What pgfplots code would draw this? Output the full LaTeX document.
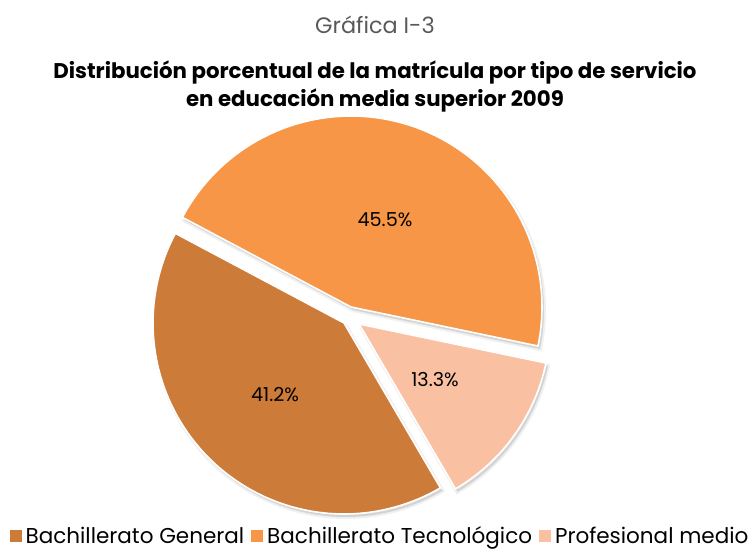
\documentclass[border=0pt]{standalone}
\usepackage{pgfplots}
\usepackage{pgfplotstable}
\pgfplotsset{compat=1.18}
\usepackage{fontspec}
\setmainfont{Poppins}
\definecolor{cGen}{HTML}{CC7B38}
\definecolor{cTec}{HTML}{F79646}
\definecolor{cPro}{HTML}{FAC0A2}
\definecolor{cTit}{HTML}{595959}
\pgfplotstableread{
name value cx cy
Gen 41.2 344 229
Tec 45.5 351 245
Pro 13.3 359 228
}\pietable
\pgfplotstablegetelem{0}{value}\of\pietable \let\vGen\pgfplotsretval
\pgfplotstablegetelem{1}{value}\of\pietable \let\vTec\pgfplotsretval
\pgfplotstablegetelem{2}{value}\of\pietable \let\vPro\pgfplotsretval
% angles (clockwise from 152 deg): Tecnologico, Profesional, General
\pgfmathsetmacro{\aA}{152}
\pgfmathsetmacro{\aB}{\aA-3.6*\vTec}
\pgfmathsetmacro{\aC}{\aB-3.6*\vPro}
\pgfmathsetmacro{\aD}{\aC-3.6*\vGen}
\def\R{191}
% slice: cx, cy, start, end, style
\newcommand{\pieslice}[5]{%
\addplot[#5, samples at={-1,0,1,...,80,81}]
 ({#1+\R*(x>-0.5)*(x<80.5)*cos(#3+(#4-#3)*min(max(x,0),80)/80)},
  {#2+\R*(x>-0.5)*(x<80.5)*sin(#3+(#4-#3)*min(max(x,0),80)/80)});}
\begin{document}
\begin{tikzpicture}
\begin{axis}[hide axis, scale only axis, width=376.5pt, height=276pt,
  xmin=0, xmax=753, ymin=0, ymax=552, clip=false,
  legend columns=3,
  legend style={at={(axis cs:381,15)}, anchor=center, draw=none, fill=none,
    font=\fontsize{10.75}{13}\selectfont, inner sep=0pt,
    /tikz/every even column/.append style={column sep=1.5pt}},
  legend cell align=left,
  legend image code/.code={\fill[#1, draw=none] (1pt,-2.7pt) rectangle (7pt,3.3pt);},
]
% shadows
\pieslice{346}{226}{\aC}{\aD}{forget plot, fill=black, fill opacity=0.12, draw=black, draw opacity=0.06, line width=2pt}
\pieslice{361}{225}{\aB}{\aC}{forget plot, fill=black, fill opacity=0.12, draw=black, draw opacity=0.06, line width=2pt}
\pieslice{353}{242}{\aA}{\aB}{forget plot, fill=black, fill opacity=0.12, draw=black, draw opacity=0.06, line width=2pt}
% slices (legend order General, Tecnologico, Profesional)
\pieslice{344}{229}{\aC}{\aD}{fill=cGen, draw=white, line width=0.8pt}
\addlegendentry{Bachillerato General}
\pieslice{351}{245}{\aA}{\aB}{fill=cTec, draw=white, line width=0.8pt}
\addlegendentry{Bachillerato Tecnológico}
\pieslice{359}{228}{\aB}{\aC}{fill=cPro, draw=white, line width=0.8pt}
\addlegendentry{Profesional medio}
\node[font=\fontsize{9.6}{11}\selectfont] at (axis cs:385,332) {45.5\%};
\node[font=\fontsize{9.6}{11}\selectfont] at (axis cs:275,157) {41.2\%};
\node[font=\fontsize{9.6}{11}\selectfont] at (axis cs:435,172) {13.3\%};
\node[font=\fontsize{11.2}{12}\selectfont, text=cTit] at (axis cs:375,527) {Gráfica I-3};
\node[font=\fontsize{10.65}{14}\selectfont\bfseries, align=center] at (axis cs:375,466)
  {Distribución porcentual de la matrícula por tipo de servicio\\en educación media superior 2009};
\end{axis}
\pgfresetboundingbox
\path (current axis.south west) rectangle (current axis.north east);
\end{tikzpicture}
\end{document}
